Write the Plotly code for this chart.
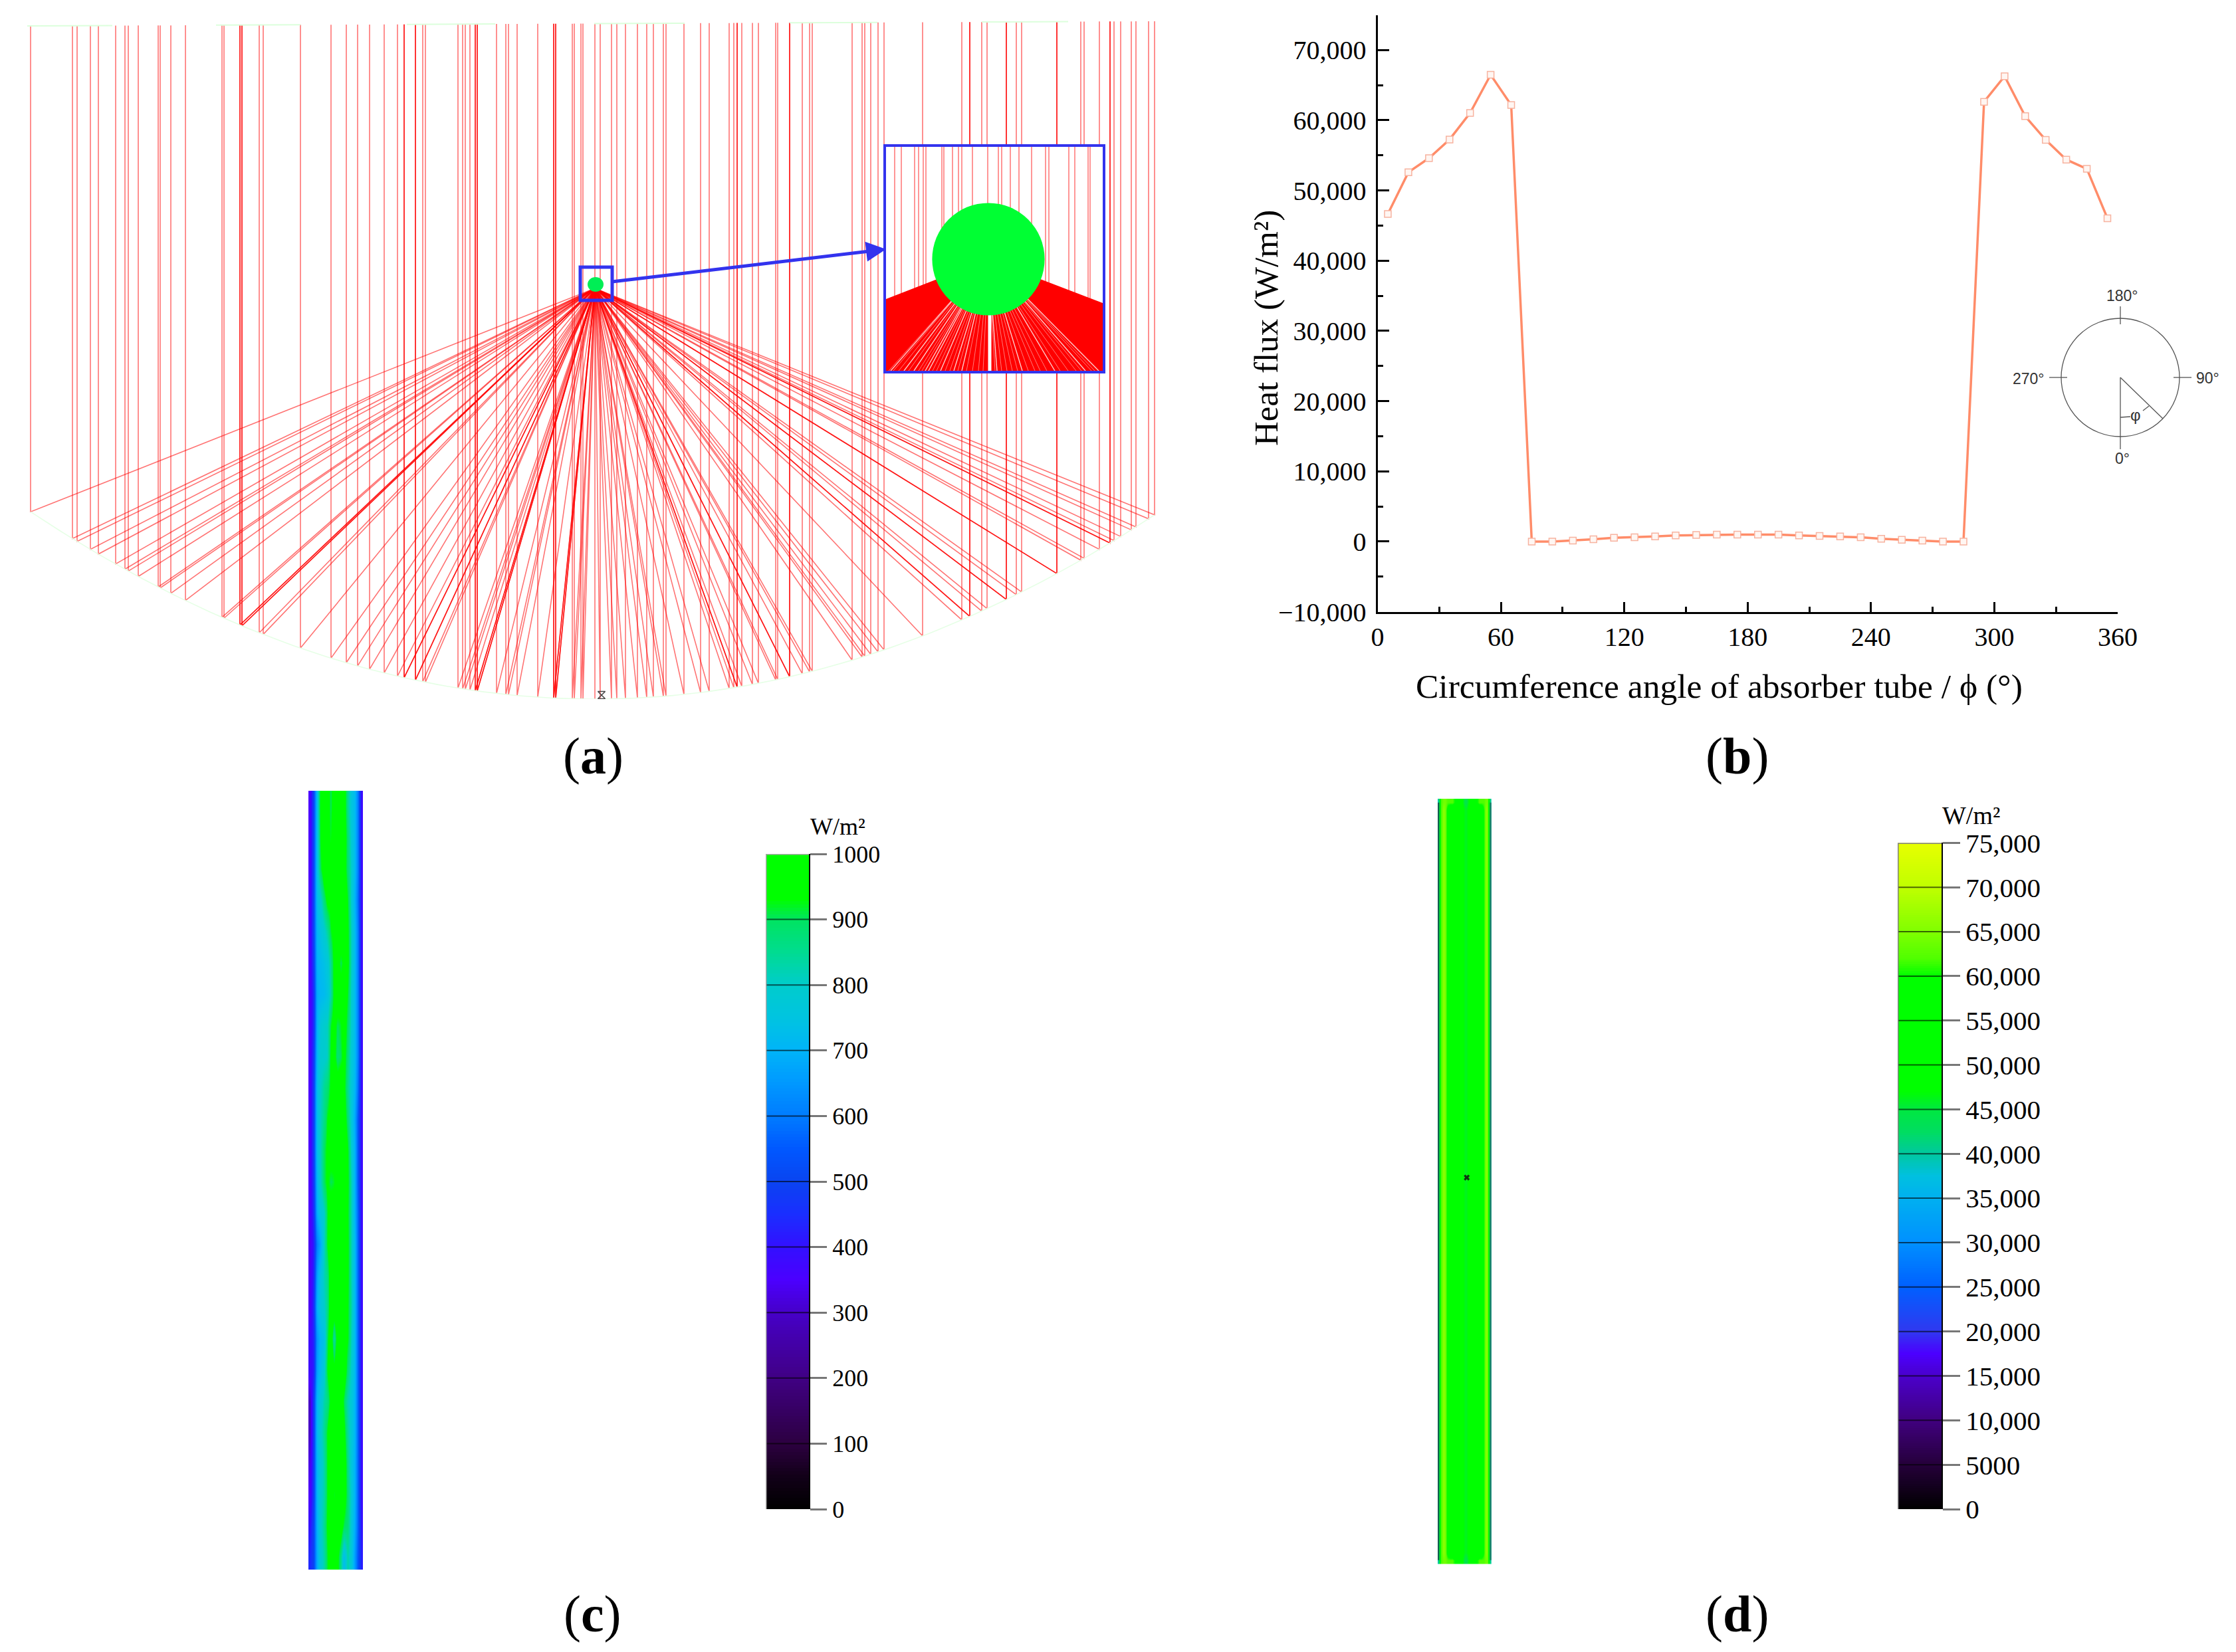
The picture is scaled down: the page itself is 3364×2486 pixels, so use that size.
import numpy as np
import plotly.graph_objects as go

W, H = 3364, 2486
SERIF = "Liberation Serif"
SANS = "Liberation Sans"

# ---------- panel (b): heat flux around the absorber tube ----------
angle_deg = [5, 15, 25, 35, 45, 55, 65, 75, 85, 95, 105, 115, 125, 135, 145, 155, 165, 175,
             185, 195, 205, 215, 225, 235, 245, 255, 265, 275, 285, 295, 305, 315, 325, 335, 345, 355]
heat_flux = [46650, 52600, 54600, 57260, 61040, 66480, 62170, 0, 0, 130, 330, 530, 600, 730, 860, 930, 990, 990,
             990, 990, 860, 800, 730, 600, 400, 265, 130, 0, 0, 62630, 66280, 60580, 57200, 54400, 53080, 46050]
b_yticks = [-10000, 0, 10000, 20000, 30000, 40000, 50000, 60000, 70000]
b_ylabels = ["\u221210,000", "0", "10,000", "20,000", "30,000", "40,000", "50,000", "60,000", "70,000"]
b_xticks = [0, 60, 120, 180, 240, 300, 360]

# ---------- panel (a): ray positions read along the mirror aperture ----------
ray_x = [46, 109, 116, 136, 148, 174, 188, 193, 208, 238, 241, 257, 279, 334, 337, 361, 364, 390, 396, 452,
         498, 521, 538, 556, 578, 598, 608, 625, 636, 640, 689, 696, 700, 707, 715, 718, 747, 761, 765, 778,
         809, 833, 836, 861, 864, 874, 877, 895, 903, 920, 928, 941, 959, 973, 983, 998, 1002, 1029, 1054,
         1067, 1097, 1104, 1109, 1116, 1132, 1141, 1167, 1170, 1188, 1207, 1218, 1222, 1282, 1297, 1301, 1310,
         1321, 1330, 1388, 1447, 1459, 1477, 1485, 1514, 1529, 1537, 1590, 1626, 1631, 1654, 1670, 1676, 1686,
         1702, 1709, 1728, 1737]
heavy_ray_x = [361, 364, 608, 625, 715, 718, 833, 836, 1109, 1188, 1459, 1514, 1590, 1670]
mirror_vertex_x = 895
mirror_curvature = 0.000391
focus_xy = (895, 618)
top_edge_x = [46, 1737]
top_edge_y = [1013, 1020]
top_glints = [(41, 169), (325, 452), (612, 745), (894, 1030), (1188, 1320), (1477, 1607)]

# inset: rays above the tube and the light slits in the reflected fan (offsets from tube centre)
inset_ray_x = [-141, -131, -111, -105, -98, -94, -70, -67, -54, -45, -40, -24, -1, 15, 20, 33, 46, 65, 86, 91,
               121, 130, 150, 153]
inset_slit_x = [-147, -127, -112, -95, -90, -72, -52, -40, 13, 51, 100, 146, 166]
inset_pale_slit_x = [-150, -143, -135, -120, -105, -100, -84, -78, -65, -58, -46, -33, -24, -15, -8, 10, 20, 28,
                     36, 44, 60, 70, 78, 88, 108, 120, 132, 140, 155, 160]
inset_fan_x = [0, -154, -154, 172, 172]
inset_fan_y = [0, -60, -168, -168, -66]
tube_radius = 84.6

# ---------- panel (c): irradiance on the tube, rows top to bottom, columns left to right ----------
tube_c = [
    [350, 500, 720, 950, 980, 960, 900, 980, 1000, 1000, 980, 850, 760, 720, 600, 380],
    [350, 500, 730, 930, 990, 950, 920, 1000, 1000, 1000, 980, 880, 780, 720, 600, 380],
    [350, 500, 730, 900, 990, 1000, 960, 1000, 1000, 1000, 970, 880, 800, 720, 600, 380],
    [350, 500, 720, 790, 880, 950, 950, 1000, 1000, 1000, 1000, 920, 790, 700, 580, 380],
    [350, 500, 700, 750, 790, 840, 920, 950, 1000, 1000, 1000, 940, 810, 720, 600, 380],
    [350, 480, 690, 720, 740, 770, 850, 950, 980, 900, 950, 950, 810, 720, 600, 380],
    [350, 450, 680, 710, 720, 750, 830, 950, 1000, 980, 980, 920, 790, 720, 600, 380],
    [350, 450, 690, 770, 800, 810, 920, 960, 900, 920, 980, 890, 790, 720, 600, 380],
    [350, 470, 700, 790, 790, 810, 940, 950, 880, 900, 960, 870, 770, 720, 600, 380],
    [350, 480, 720, 800, 850, 880, 940, 1000, 980, 1000, 950, 850, 770, 710, 580, 380],
    [350, 480, 720, 810, 860, 930, 950, 970, 1000, 1000, 980, 880, 770, 680, 540, 380],
    [350, 480, 720, 810, 900, 940, 980, 960, 1000, 1000, 1000, 930, 790, 700, 540, 380],
    [350, 470, 700, 800, 900, 940, 900, 920, 1000, 1000, 1000, 940, 820, 700, 540, 380],
    [350, 450, 680, 760, 800, 920, 1000, 970, 960, 1000, 1000, 930, 820, 700, 560, 380],
    [340, 420, 600, 680, 810, 930, 1000, 1000, 1000, 1000, 1000, 940, 820, 720, 560, 380],
    [340, 430, 660, 750, 820, 860, 1000, 1000, 920, 1000, 1000, 940, 820, 720, 560, 380],
    [340, 450, 690, 760, 800, 860, 1000, 1000, 1000, 1000, 950, 930, 830, 720, 560, 380],
    [380, 430, 640, 710, 740, 900, 1000, 820, 980, 1000, 950, 930, 810, 720, 560, 380],
    [380, 420, 660, 720, 780, 930, 1000, 950, 1000, 1000, 1000, 880, 790, 720, 560, 380],
    [300, 480, 700, 770, 830, 860, 950, 1000, 1000, 1000, 900, 820, 770, 710, 560, 380],
    [300, 480, 710, 790, 850, 930, 1000, 1000, 1000, 1000, 950, 840, 770, 710, 560, 380],
    [330, 480, 700, 770, 830, 930, 1000, 970, 1000, 1000, 1000, 860, 760, 700, 560, 380],
    [350, 480, 700, 790, 830, 930, 1000, 920, 950, 1000, 980, 880, 780, 700, 560, 380],
    [400, 500, 690, 790, 850, 940, 950, 980, 1000, 980, 900, 880, 770, 690, 560, 400],
    [440, 500, 680, 780, 830, 920, 960, 980, 950, 860, 720, 830, 770, 660, 540, 420],
]
scale_c_ticks = list(range(0, 1001, 100))
scale_c_labels = [str(v) for v in scale_c_ticks]
colors_c = [[0, "#000000"], [.05, "#120018"], [.10, "#2c0040"], [.2, "#400084"], [.3, "#4600c8"],
            [.35, "#4b00ff"], [.40, "#3310ff"], [.45, "#1a2eff"], [.5, "#0a44f0"], [.55, "#0058ff"],
            [.6, "#007cff"], [.65, "#0098ff"], [.7, "#00b4f8"], [.75, "#00c4e0"], [.8, "#00cccc"],
            [.85, "#00dc90"], [.9, "#00e460"], [.93, "#00ff00"], [1, "#00ff00"]]

# ---------- panel (d): heat flux on the tube ----------
tube_d_body = [40000, 62000, 66000, 64000, 58000, 55000, 55000, 55000, 55000, 55000, 50000, 47000,
               46000, 47000, 50000, 55000, 55000, 55000, 55000, 55000, 60000, 66000, 63000, 40000]
tube_d_cap = [40000, 62000, 64000, 64000, 62000, 62000, 62000, 60000, 58000, 55000, 48000, 46000,
              44000, 46000, 48000, 55000, 58000, 60000, 62000, 62000, 62000, 64000, 63000, 40000]
tube_d_rows = 100
scale_d_ticks = list(range(0, 75001, 5000))
scale_d_labels = ["0", "5000"] + [f"{v:,}" for v in scale_d_ticks[2:]]
colors_d = [[0, "#000000"], [.0667, "#25003a"], [.1333, "#40007f"], [.2, "#4a00cc"], [.2333, "#4b00ff"],
            [.2667, "#3038f0"], [.3333, "#0060ff"], [.4, "#0090ff"], [.4667, "#00b0f0"], [.5, "#00c0e0"],
            [.5333, "#00c8a0"], [.5667, "#00dd60"], [.6, "#00e840"], [.6267, "#00ff00"], [.8, "#00ff00"],
            [.8267, "#50ff00"], [.8667, "#80ff00"], [.9333, "#c0ff00"], [1, "#e8ff00"]]

# ---------- helpers ----------
def dx(a, b):
    return [a / W, b / W]

def dy(top, bottom):
    return [1 - bottom / H, 1 - top / H]

def mirror_y(x):
    return mirror_curvature * (x - mirror_vertex_x) ** 2

def top_y(x):
    return float(np.interp(x, top_edge_x, top_edge_y))

def ray_paths(xs):
    px, py = [], []
    for x in xs:
        px += [x, x, focus_xy[0], None]
        py += [top_y(x), mirror_y(x), focus_xy[1], None]
    return px, py

hidden = dict(visible=False, showgrid=False, zeroline=False, fixedrange=True)
fig = go.Figure()

# ---- panel (a) ----
rx, ry = ray_paths(ray_x)
fig.add_trace(go.Scatter(x=rx, y=ry, xaxis="x2", yaxis="y2", mode="lines",
                         line=dict(color="rgba(255,0,0,0.55)", width=1.6), hoverinfo="skip"))
hx, hy = ray_paths(heavy_ray_x)
fig.add_trace(go.Scatter(x=hx, y=hy, xaxis="x2", yaxis="y2", mode="lines",
                         line=dict(color="rgba(255,0,0,0.8)", width=1.6), hoverinfo="skip"))
mc_x = list(np.linspace(top_edge_x[0], top_edge_x[1], 120))
fig.add_trace(go.Scatter(x=mc_x, y=[mirror_y(x) for x in mc_x], xaxis="x2", yaxis="y2", mode="lines",
                         line=dict(color="#e6ffe6", width=1.6), hoverinfo="skip"))
gx, gy = [], []
for a, b in top_glints:
    gx += [a, b, None]
    gy += [top_y(a), top_y(b), None]
fig.add_trace(go.Scatter(x=gx, y=gy, xaxis="x2", yaxis="y2", mode="lines",
                         line=dict(color="#dcffdc", width=2), hoverinfo="skip"))
fig.add_trace(go.Scatter(x=[905], y=[6], xaxis="x2", yaxis="y2", mode="markers",
                         marker=dict(symbol="hourglass-open", size=11, color="#444444", line=dict(width=1.5, color="#444444")),
                         hoverinfo="skip"))

# inset
fig.add_trace(go.Scatter(x=[-154, 172, 172, -154, -154], y=[169, 169, -168, -168, 169], xaxis="x3", yaxis="y3",
                         mode="lines", fill="toself", fillcolor="#ffffff", line=dict(width=0), hoverinfo="skip"))
ivx, ivy = [], []
for x in inset_ray_x:
    ivx += [x, x, None]
    ivy += [169, -70, None]
fig.add_trace(go.Scatter(x=ivx, y=ivy, xaxis="x3", yaxis="y3", mode="lines",
                         line=dict(color="rgba(255,0,0,0.55)", width=1.5), hoverinfo="skip"))
fig.add_trace(go.Scatter(x=inset_fan_x + [0], y=inset_fan_y + [0], xaxis="x3", yaxis="y3", mode="lines",
                         fill="toself", fillcolor="#ff0000", line=dict(width=0), hoverinfo="skip"))
sx, sy = [], []
for x in inset_pale_slit_x:
    sx += [0, x, None]
    sy += [0, -168, None]
fig.add_trace(go.Scatter(x=sx, y=sy, xaxis="x3", yaxis="y3", mode="lines",
                         line=dict(color="rgba(255,160,160,0.75)", width=1), hoverinfo="skip"))
sx, sy = [], []
for x in inset_slit_x:
    sx += [0, x, None]
    sy += [0, -168, None]
fig.add_trace(go.Scatter(x=sx, y=sy, xaxis="x3", yaxis="y3", mode="lines",
                         line=dict(color="rgba(255,225,225,0.9)", width=1.4), hoverinfo="skip"))
fig.add_trace(go.Scatter(x=[2, 2], y=[-84, -168], xaxis="x3", yaxis="y3", mode="lines",
                         line=dict(color="#ffffff", width=5), hoverinfo="skip"))

# ---- panel (b) ----
fig.add_trace(go.Scatter(x=angle_deg, y=heat_flux, xaxis="x", yaxis="y", mode="lines+markers",
                         line=dict(color="#ff8c69", width=3.5),
                         marker=dict(symbol="square", size=10, color="#fff6f2", line=dict(color="#f7b3a0", width=1.5))))

# ---- panel (c) ----
fig.add_trace(go.Heatmap(z=tube_c, xaxis="x4", yaxis="y4", coloraxis="coloraxis", zsmooth="best", hoverinfo="skip"))
levels_c = list(range(0, 1001, 5))
fig.add_trace(go.Heatmap(z=[[v] for v in levels_c], y=levels_c, x=[0], xaxis="x5", yaxis="y5",
                         coloraxis="coloraxis", hoverinfo="skip"))
tx, ty = [], []
for v in scale_c_ticks[1:-1]:
    tx += [-0.5, 0.5, None]
    ty += [v, v, None]
fig.add_trace(go.Scatter(x=tx, y=ty, xaxis="x5", yaxis="y5", mode="lines",
                         line=dict(color="rgba(0,0,0,0.6)", width=2), hoverinfo="skip"))
fig.add_trace(go.Scatter(x=[-0.5, -0.5, 0.5], y=[0, 1000, 1000], xaxis="x5", yaxis="y5", mode="lines",
                         line=dict(color="#a8a8a8", width=3), hoverinfo="skip"))

# ---- panel (d) ----
z_d = [tube_d_cap] + [tube_d_body] * tube_d_rows + [tube_d_cap]
fig.add_trace(go.Heatmap(z=z_d, xaxis="x6", yaxis="y6", coloraxis="coloraxis2", zsmooth="best", hoverinfo="skip"))
edge_rows = [0, tube_d_rows + 1]
for col, color in ((0, "#14604f"), (23, "#1a7a6a")):
    fig.add_trace(go.Scatter(x=[col - 0.4, col - 0.4] if col == 0 else [col + 0.4, col + 0.4], y=edge_rows,
                             xaxis="x6", yaxis="y6", mode="lines", line=dict(color=color, width=4), hoverinfo="skip"))
fig.add_trace(go.Scatter(x=[12.5], y=[50], xaxis="x6", yaxis="y6", mode="markers",
                         marker=dict(symbol="x", size=8, color="#113311", line=dict(width=0)), hoverinfo="skip"))
levels_d = list(range(0, 75001, 250))
fig.add_trace(go.Heatmap(z=[[v] for v in levels_d], y=levels_d, x=[0], xaxis="x7", yaxis="y7",
                         coloraxis="coloraxis2", hoverinfo="skip"))
tx, ty = [], []
for v in scale_d_ticks[1:-1]:
    tx += [-0.5, 0.5, None]
    ty += [v, v, None]
fig.add_trace(go.Scatter(x=tx, y=ty, xaxis="x7", yaxis="y7", mode="lines",
                         line=dict(color="rgba(0,0,0,0.6)", width=2), hoverinfo="skip"))
fig.add_trace(go.Scatter(x=[-0.5, -0.5, 0.5], y=[0, 75000, 75000], xaxis="x7", yaxis="y7", mode="lines",
                         line=dict(color="#808080", width=3), hoverinfo="skip"))

# ---- shapes ----
BLUE = "#3333ee"
shapes = [
    dict(type="circle", xref="x3", yref="y3", x0=-tube_radius, x1=tube_radius, y0=-tube_radius, y1=tube_radius,
         fillcolor="#00ff33", line=dict(width=0), layer="above"),
    dict(type="circle", xref="x2", yref="y2", x0=884, x1=908, y0=613, y1=635,
         fillcolor="#00ee55", line=dict(width=0), layer="above"),
    dict(type="rect", xref="x2", yref="y2", x0=873, x1=921, y0=600, y1=650, line=dict(color=BLUE, width=5), layer="above"),
]
GREY = "#555555"
for x0, y0, x1, y1 in [(3190, 461, 3190, 488), (3190, 568, 3190, 676), (3083, 568, 3110, 568), (3270, 568, 3297, 568),
                       (3190, 568, 3254, 630), (3190, 628, 3205, 627), (3224, 618, 3233, 611)]:
    shapes.append(dict(type="line", xref="x8", yref="y8", x0=x0, y0=y0, x1=x1, y1=y1, line=dict(color=GREY, width=1.3)))
shapes.append(dict(type="circle", xref="x8", yref="y8", x0=3101, x1=3279, y0=479, y1=657, line=dict(color=GREY, width=1.3)))

# ---- annotations ----
def page_text(x, y, text, size, font=SERIF, color="#000000", angle=0):
    return dict(x=x, y=y, xref="x8", yref="y8", text=text, showarrow=False, textangle=angle,
                font=dict(family=font, size=size, color=color), xanchor="center", yanchor="middle")

annotations = [
    dict(x=1333, y=677, ax=921, ay=628, xref="x2", yref="y2", axref="x2", ayref="y2", text="", showarrow=True,
         arrowcolor=BLUE, arrowwidth=5, arrowhead=2, arrowsize=1.2, standoff=0, startstandoff=0),
    page_text(2586, 1032, "Circumference angle of absorber tube / \u03d5 (\u00b0)", 51.5),
    page_text(1905, 494, "Heat flux (W/m\u00b2)", 51),
    page_text(892, 1137, "(<b>a</b>)", 78),
    page_text(2613, 1137, "(<b>b</b>)", 78),
    page_text(891, 2428, "(<b>c</b>)", 78),
    page_text(2613, 2428, "(<b>d</b>)", 78),
    page_text(1260, 1244, "W/m\u00b2", 36),
    page_text(2965, 1227, "W/m\u00b2", 38),
    page_text(3193, 445, "180\u00b0", 23, SANS, "#333333"),
    page_text(3321, 569, "90\u00b0", 23, SANS, "#333333"),
    page_text(3193, 690, "0\u00b0", 23, SANS, "#333333"),
    page_text(3052, 570, "270\u00b0", 23, SANS, "#333333"),
    page_text(3213, 624, "\u03c6", 24, SANS, "#333333"),
]
annotations[2]["textangle"] = -90

def scale_axis(ticks, labels, rng, domain, size, anchor, ticklen=25, standoff=3):
    return dict(domain=domain, range=rng, side="right", anchor=anchor, tickmode="array", tickvals=ticks, ticktext=labels,
                ticks="outside", ticklen=ticklen, tickwidth=3, tickcolor="#777777", showgrid=False, zeroline=False,
                showline=True, linecolor="#000000", linewidth=2, fixedrange=True, ticklabelstandoff=standoff, automargin=False,
                tickfont=dict(family=SERIF, size=size, color="#000000"))

fig.update_layout(
    width=W, height=H, margin=dict(l=0, r=0, t=0, b=0, pad=0, autoexpand=False), autosize=False,
    paper_bgcolor="#ffffff", plot_bgcolor="rgba(0,0,0,0)", showlegend=False,
    xaxis=dict(domain=dx(2072.5, 3186), range=[0, 360], tickmode="array", tickvals=b_xticks, ticks="inside", ticklen=15, tickwidth=3,
               tickcolor="#000000", showline=True, linecolor="#000000", linewidth=3, showgrid=False, zeroline=False, anchor="y",
               minor=dict(dtick=30, ticks="inside", ticklen=8, tickwidth=3, tickcolor="#000000", showgrid=False),
               tickfont=dict(family=SERIF, size=40, color="#000000"), ticklabelstandoff=0, fixedrange=True),
    yaxis=dict(domain=dy(22.5, 920.6), range=[-10000, 75000], tickmode="array", tickvals=b_yticks, ticktext=b_ylabels, ticks="inside",
               ticklen=17, tickwidth=3, tickcolor="#000000", showline=True, linecolor="#000000", linewidth=3, showgrid=False, zeroline=False,
               anchor="x", minor=dict(dtick=5000, ticks="inside", ticklen=8, tickwidth=3, tickcolor="#000000", showgrid=False),
               tickfont=dict(family=SERIF, size=40, color="#000000"), ticklabelstandoff=6, fixedrange=True),
    xaxis2=dict(domain=[0, 1790 / W], range=[0, 1790], anchor="y2", **hidden),
    yaxis2=dict(domain=dy(12, 1052), range=[0, 1040], anchor="x2", **hidden),
    xaxis3=dict(domain=dx(1333, 1659), range=[-154, 172], anchor="y3", visible=True, showticklabels=False, ticks="",
                showgrid=False, zeroline=False, showline=True, mirror=True, linecolor=BLUE, linewidth=4, fixedrange=True),
    yaxis3=dict(domain=dy(221, 558), range=[-168, 169], anchor="x3", visible=True, showticklabels=False, ticks="",
                showgrid=False, zeroline=False, showline=True, mirror=True, linecolor=BLUE, linewidth=4, fixedrange=True),
    xaxis4=dict(domain=dx(464, 546), range=[-0.5, 15.5], anchor="y4", **hidden),
    yaxis4=dict(domain=dy(1190, 2362.5), range=[24.4, -0.5], anchor="x4", **hidden),
    xaxis5=dict(domain=dx(1152, 1217), range=[-0.5, 0.5], anchor="y5", **hidden),
    yaxis5=scale_axis(scale_c_ticks, scale_c_labels, [0, 1000], dy(1285, 2271), 36, "x5", 25, 1),
    xaxis6=dict(domain=dx(2163, 2243.7), range=[-0.5, 23.5], anchor="y6", **hidden),
    yaxis6=dict(domain=dy(1202, 2353.5), range=[tube_d_rows + 1.5, -0.5], anchor="x6", **hidden),
    xaxis7=dict(domain=dx(2855, 2921), range=[-0.5, 0.5], anchor="y7", **hidden),
    yaxis7=scale_axis(scale_d_ticks, scale_d_labels, [0, 75000], dy(1268.4, 2271), 41, "x7", 26, 0),
    xaxis8=dict(domain=[0, 1], range=[0, W], anchor="y8", **hidden),
    yaxis8=dict(domain=[0, 1], range=[H, 0], anchor="x8", **hidden),
    coloraxis=dict(cmin=0, cmax=1000, colorscale=colors_c, showscale=False),
    coloraxis2=dict(cmin=0, cmax=75000, colorscale=colors_d, showscale=False),
    shapes=shapes, annotations=annotations,
)
# empty trace so the page axes exist
fig.add_trace(go.Scatter(x=[0], y=[0], xaxis="x8", yaxis="y8", mode="markers", marker=dict(size=1, opacity=0), hoverinfo="skip"))

fig.write_html("out.html", config={"displayModeBar": False},
               post_script="document.body.style.margin='0';document.body.style.overflow='hidden';")
